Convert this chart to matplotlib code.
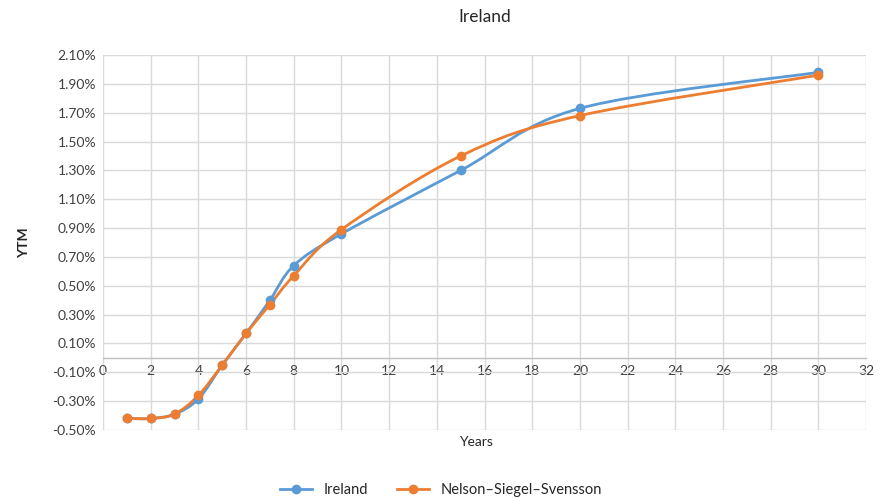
import numpy as np
import matplotlib
matplotlib.use('Agg')
import matplotlib.pyplot as plt
from matplotlib.path import Path
from matplotlib.patches import PathPatch
from matplotlib.lines import Line2D
from matplotlib.ticker import FuncFormatter, MultipleLocator

# 数据
years = [1, 2, 3, 4, 5, 6, 7, 8, 10, 15, 20, 30]
ireland = [-0.42, -0.42, -0.39, -0.285, -0.05, 0.17, 0.40, 0.64, 0.86, 1.30, 1.73, 1.98]
nss = [-0.42, -0.42, -0.39, -0.26, -0.05, 0.17, 0.37, 0.57, 0.89, 1.40, 1.68, 1.96]
series_names = ['Ireland', 'Nelson–Siegel–Svensson']
colors = ['#5B9BD5', '#ED7D31']

plt.rcParams['font.family'] = ['Lato', 'DejaVu Sans']


def smooth_path(xs, ys):
    # Excel风格平滑线：Catmull-Rom 转三次贝塞尔
    pts = np.column_stack([xs, ys]).astype(float)
    n = len(pts)
    verts = [pts[0]]
    codes = [Path.MOVETO]
    for i in range(n - 1):
        p0 = pts[i - 1] if i > 0 else pts[i]
        p1 = pts[i]
        p2 = pts[i + 1]
        p3 = pts[i + 2] if i + 2 < n else pts[i + 1]
        c1 = p1 + (p2 - p0) / 6.0
        c2 = p2 - (p3 - p1) / 6.0
        verts += [c1, c2, p2]
        codes += [Path.CURVE4] * 3
    return Path(verts, codes)


fig = plt.figure(figsize=(8.82, 5), dpi=100)
ax = fig.add_axes([0.1168, 0.14, 0.8652, 0.75])

for ys, c in zip([ireland, nss], colors):
    ax.add_patch(PathPatch(smooth_path(years, ys), facecolor='none',
                           edgecolor=c, linewidth=2.0, zorder=3))
    ax.plot(years, ys, linestyle='none', marker='o', markersize=6,
            color=c, zorder=4)

ax.set_xlim(0, 32)
ax.set_ylim(-0.5, 2.1)
ax.xaxis.set_major_locator(MultipleLocator(2))
ax.set_yticks(np.arange(-0.5, 2.11, 0.2))
ax.yaxis.set_major_formatter(FuncFormatter(lambda v, p: f'{v:.2f}%'))

ax.grid(True, color='#D9D9D9', linewidth=1.0)
ax.set_axisbelow(True)
for s in ['top', 'right', 'left']:
    ax.spines[s].set_visible(False)
ax.spines['bottom'].set_position(('data', 0))
ax.spines['bottom'].set_color('#BFBFBF')
ax.spines['bottom'].set_linewidth(1.0)
ax.tick_params(length=0, labelsize=10, colors='#404040', pad=5)

ax.set_title('Ireland', fontsize=12.5, color='#262626', pad=24)
ax.set_ylabel('YTM', fontsize=10, fontweight='bold', color='#262626', labelpad=16)
fig.text(0.54, 0.115, 'Years', ha='center', va='center', fontsize=10, color='#262626')

handles = [Line2D([], [], color=c, linewidth=2.0, marker='o', markersize=6) for c in colors]
fig.legend(handles, series_names, loc='center', bbox_to_anchor=(0.5, 0.02),
           ncol=2, frameon=False, fontsize=10.5, handlelength=2.2, columnspacing=2.0,
           labelcolor='#262626')

fig.savefig('out.png', dpi=100)
